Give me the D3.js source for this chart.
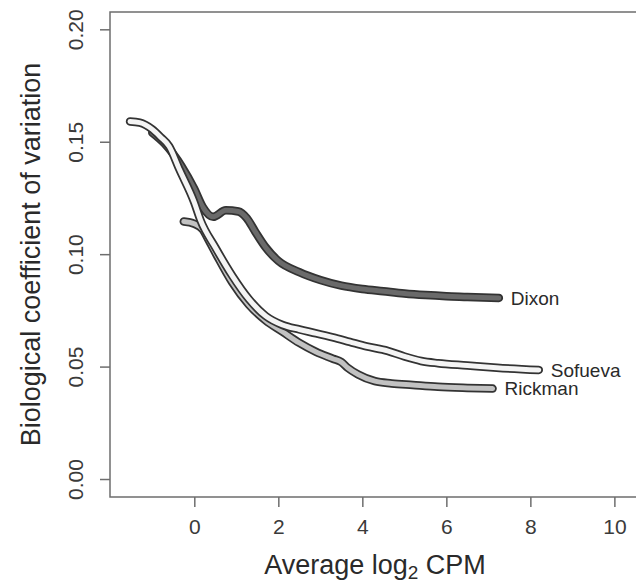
<!DOCTYPE html>
<html>
<head>
<meta charset="utf-8">
<script src="https://cdn.jsdelivr.net/npm/d3@7"></script>
<style>
  body { margin: 0; background: #fff; }
  svg { font-family: "Liberation Sans", Arial, sans-serif; }
  .axis path, .axis line { stroke: #6e6e6e; stroke-width: 1.5; }
  .axis text { fill: #3a3a3a; font-size: 21px; }
</style>
</head>
<body>
<div id="canvas"></div>
<script>
// trend curves: [average log2 CPM, BCV]
var dixon = [[-1.0,0.154],[-0.7,0.149],[-0.3,0.139],[0.0,0.129],[0.2,0.121],[0.45,0.1166],
  [0.75,0.1195],[1.05,0.119],[1.25,0.116],[1.45,0.110],[1.7,0.103],[2.0,0.097],[2.5,0.092],
  [3.0,0.0885],[3.5,0.086],[4.0,0.0845],[4.5,0.0835],[5.0,0.0825],[5.5,0.0818],[6.0,0.0813],
  [6.5,0.081],[7.25,0.0805]];
var rickman = [[-0.25,0.1145],[0.0,0.1135],[0.2,0.111],[0.35,0.106],[0.55,0.099],[0.9,0.0875],
  [1.3,0.0775],[1.7,0.0705],[2.1,0.0655],[2.5,0.0605],[2.9,0.0565],[3.3,0.0535],[3.5,0.052],
  [3.65,0.0495],[3.9,0.0465],[4.3,0.0435],[4.7,0.0425],[5.2,0.0418],[5.8,0.041],[6.5,0.0405],
  [7.1,0.0402]];
var sofueva = [[-1.53,0.159],[-1.3,0.1585],[-1.0,0.1555],[-0.8,0.152],[-0.6,0.148],[-0.35,0.1375],
  [0.0,0.123],[0.15,0.115],[0.5,0.103],[0.9,0.0905],[1.3,0.080],[1.7,0.0725],[2.1,0.0685],
  [2.5,0.0665],[2.9,0.0648],[3.3,0.063],[3.7,0.061],[4.1,0.059],[4.6,0.057],[5.0,0.0545],
  [5.4,0.0525],[5.8,0.0515],[6.5,0.0505],[7.2,0.0495],[8.2,0.0485]];

var seriesNames = ['Dixon','Rickman','Sofueva'];
var seriesFill = ['#6a6a6a','#c2c2c2','#f4f4f4'];
var xTicks = [0,2,4,6,8,10];
var yTicks = [0.00,0.05,0.10,0.15,0.20];

var outerWidth = 636, outerHeight = 585;
var m = {t:12, r:-4, b:88, l:110};
var w = outerWidth - m.l - m.r,
    h = outerHeight - m.t - m.b;

var svg = d3.select('#canvas')
    .append('svg')
    .attr('width', outerWidth)
    .attr('height', outerHeight);

var plot = svg.append('g')
    .attr('transform', 'translate(' + m.l + ',' + m.t + ')');

// R style: limits padded by 4%
var scaleX = d3.scaleLinear().domain([-2.007, 10.61]).range([0, w]);
var scaleY = d3.scaleLinear().domain([-0.008, 0.2077]).range([h, 0]);

// box (right side runs off the page)
plot.append('path')
    .attr('d', 'M' + (w + 10) + ',0H0V' + h + 'H' + (w + 10))
    .attr('fill', 'none')
    .attr('stroke', '#6e6e6e')
    .attr('stroke-width', 1.5);

var axisX = d3.axisBottom(scaleX).tickValues(xTicks).tickSize(10).tickPadding(12)
    .tickFormat(d3.format('d'));
var gx = plot.append('g').attr('class', 'axis')
    .attr('transform', 'translate(0,' + h + ')')
    .call(axisX);
gx.select('.domain').remove();

var axisY = d3.axisLeft(scaleY).tickValues(yTicks).tickSize(10).tickPadding(0)
    .tickFormat(d3.format('.2f'));
var gy = plot.append('g').attr('class', 'axis').call(axisY);
gy.select('.domain').remove();
gy.selectAll('text')
    .attr('x', null).attr('dy', null)
    .attr('text-anchor', 'middle')
    .attr('transform', 'translate(-27,0) rotate(-90)');

// lines: dark outline with a coloured core
var line = d3.line()
    .x(function(d){ return scaleX(d[0]); })
    .y(function(d){ return scaleY(d[1]); })
    .curve(d3.curveMonotoneX);

[dixon, rickman, sofueva].forEach(function(s, i){
  var g = plot.append('g').attr('class', 'series');
  g.append('path').attr('d', line(s))
    .attr('fill', 'none').attr('stroke', '#333')
    .attr('stroke-width', 8.5).attr('stroke-linecap', 'round').attr('stroke-linejoin', 'round');
  g.append('path').attr('d', line(s))
    .attr('fill', 'none').attr('stroke', seriesFill[i])
    .attr('stroke-width', 5).attr('stroke-linecap', 'round').attr('stroke-linejoin', 'round');
  var last = s[s.length - 1];
  g.append('text')
    .attr('x', scaleX(last[0]) + 12)
    .attr('y', scaleY(last[1]))
    .attr('dy', '0.35em')
    .attr('font-size', 19)
    .attr('fill', '#2a2a2a')
    .text(seriesNames[i]);
});

// axis titles
var xt = svg.append('text')
    .attr('x', m.l + w / 2)
    .attr('y', 574)
    .attr('text-anchor', 'middle')
    .attr('font-size', 27)
    .attr('fill', '#2a2a2a');
xt.append('tspan').text('Average log');
xt.append('tspan').attr('font-size', 19).attr('dy', 5).text('2');
xt.append('tspan').attr('dy', -5).text(' CPM');

svg.append('text')
    .attr('transform', 'translate(40,' + (m.t + h / 2) + ') rotate(-90)')
    .attr('text-anchor', 'middle')
    .attr('font-size', 27)
    .attr('fill', '#2a2a2a')
    .text('Biological coefficient of variation');
</script>
</body>
</html>
